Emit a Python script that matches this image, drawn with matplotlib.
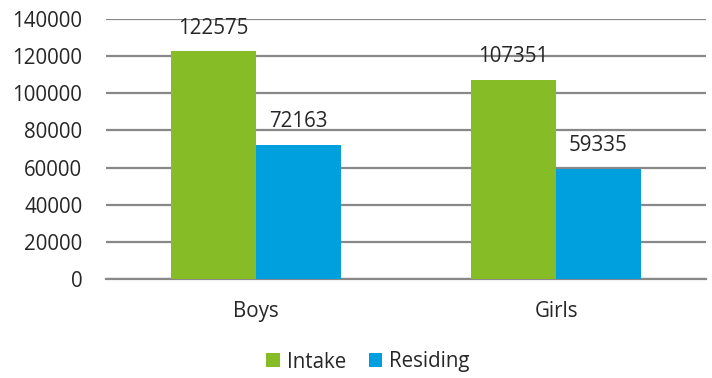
import matplotlib
matplotlib.use("Agg")
import matplotlib.pyplot as plt
import numpy as np

categories = ["Boys", "Girls"]
intake = [122575, 107351]
residing = [72163, 59335]
series_names = ["Intake", "Residing"]
colors = ["#86BC25", "#00A0DF"]

plt.rcParams["font.family"] = ["Open Sans", "DejaVu Sans"]
TXT = "#262626"
GRID = "#888888"
FS = 14.8

fig = plt.figure(figsize=(7.12, 3.78), dpi=100)
ax = fig.add_axes([106 / 712, 1 - 279 / 378, 600 / 712, 260 / 378])

x = np.arange(len(categories))
w = 0.283
for i, (vals, name, c) in enumerate(zip([intake, residing], series_names, colors)):
    b = ax.bar(x + (i - 0.5) * w, vals, w, color=c, label=name, zorder=3)
    for rect, v in zip(b, vals):
        ax.annotate(str(v), (rect.get_x() + rect.get_width() / 2, v),
                    xytext=(0, 9), textcoords="offset points",
                    ha="center", va="bottom", fontsize=FS, color=TXT)

ax.set_xlim(-0.5, 1.5)
ax.set_ylim(0, 140000)
ax.set_yticks(range(0, 140001, 20000))
ax.set_xticks(x)
ax.set_xticklabels(categories)
ax.tick_params(axis="both", length=0, labelsize=FS, colors=TXT)
ax.tick_params(axis="x", pad=16)
ax.tick_params(axis="y", pad=17)
ax.yaxis.grid(True, color=GRID, linewidth=1.6, zorder=0)
for s in ["top", "right", "left"]:
    ax.spines[s].set_visible(False)
ax.spines["bottom"].set_color(GRID)
ax.spines["bottom"].set_linewidth(1.6)

fig.legend(loc="center", bbox_to_anchor=(368 / 712, 1 - 362 / 378), ncol=2,
           frameon=False, fontsize=FS, handlelength=0.65, handleheight=0.65,
           handletextpad=0.35, columnspacing=1.1, labelcolor=TXT)

fig.savefig("out.png", dpi=100)
